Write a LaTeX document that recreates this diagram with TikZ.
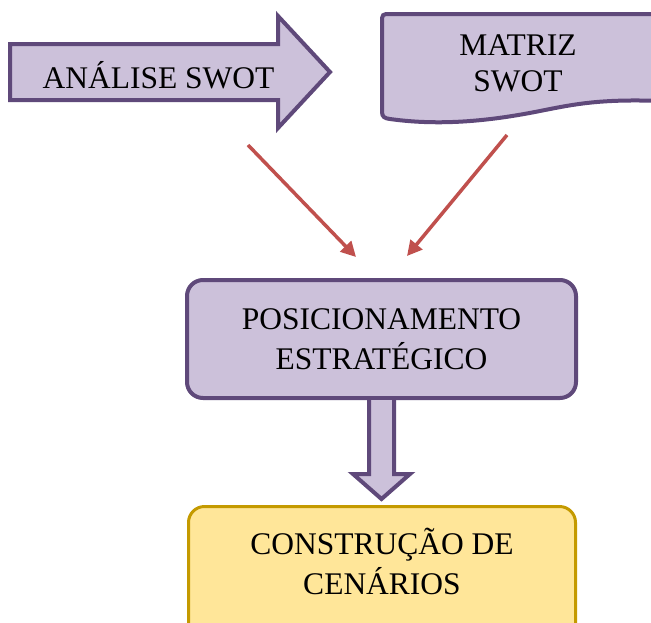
\documentclass[tikz,border=0pt]{standalone}
\usepackage{fontspec}
\setmainfont{Liberation Serif}
\usetikzlibrary{arrows.meta,calc}
\definecolor{pborder}{HTML}{5F497A}
\definecolor{pfill}{HTML}{CCC1DA}
\definecolor{redarrow}{HTML}{C0504D}
\definecolor{yfill}{HTML}{FFE699}
\definecolor{yborder}{HTML}{C49A00}
\tikzset{
  shapeline/.style={draw=pborder,fill=pfill,line width=4pt,line join=miter},
  labeltext/.style={font=\fontsize{31.5}{40}\selectfont,align=center,inner sep=0pt,text=black},
  redconn/.style={draw=redarrow,line width=3.5pt,-{Triangle[length=15pt,width=15pt]}},
}
\begin{document}
\begin{tikzpicture}[x=1pt,y=-1pt]
\clip (0,0) rectangle (651,622);
\fill[white] (0,0) rectangle (651,622);
% block arrow ANALISE SWOT
\draw[shapeline] (10,44) -- (278,44) -- (278,16) -- (330,72) -- (278,128) -- (278,100) -- (10,100) -- cycle;
\node[labeltext,anchor=base] (analise) at (158.5,88) {ANÁLISE SWOT};
% document shape MATRIZ SWOT
\draw[shapeline] (662,101) .. controls (600,99) and (575,104) .. (540,111)
  .. controls (490,121) and (440,126) .. (390,119)
  .. controls (385,118.5) and (382,117) .. (382,112)
  [rounded corners=4pt] -- (382,14) -- (662,14) -- cycle;
\node[labeltext,font=\fontsize{31.5}{36}\selectfont] (matriz) at (518,63) {MATRIZ\\SWOT};
% positioning box
\node[labeltext,draw=pborder,fill=pfill,line width=4pt,rounded corners=16pt,
      minimum width=389pt,minimum height=118pt] (pos) at (381.5,339) {POSICIONAMENTO\\ESTRATÉGICO};
% red connectors
\coordinate (r1s) at (248,145);
\coordinate (r1e) at (356,257);
\coordinate (r2s) at (507,135);
\coordinate (r2e) at (407,256);
\draw[redconn] (r1s) -- (r1e);
\draw[redconn] (r2s) -- (r2e);
% bottom box
\node[draw=yborder,fill=yfill,line width=3pt,rounded corners=16pt,
      minimum width=387pt,minimum height=140pt,inner sep=0pt] (cenbox) at (382,576.5) {};
\node[labeltext] (cenarios) at (382,561) {CONSTRUÇÃO DE\\CENÁRIOS};
% block arrow down
\draw[shapeline] ($(pos.south)+(-12.5,0)$) -- ++(0,74) -- ++(-16,0) -- ++(28.5,25) -- ++(28.5,-25) -- ++(-16,0) -- ($(pos.south)+(12.5,0)$);
\end{tikzpicture}
\end{document}
